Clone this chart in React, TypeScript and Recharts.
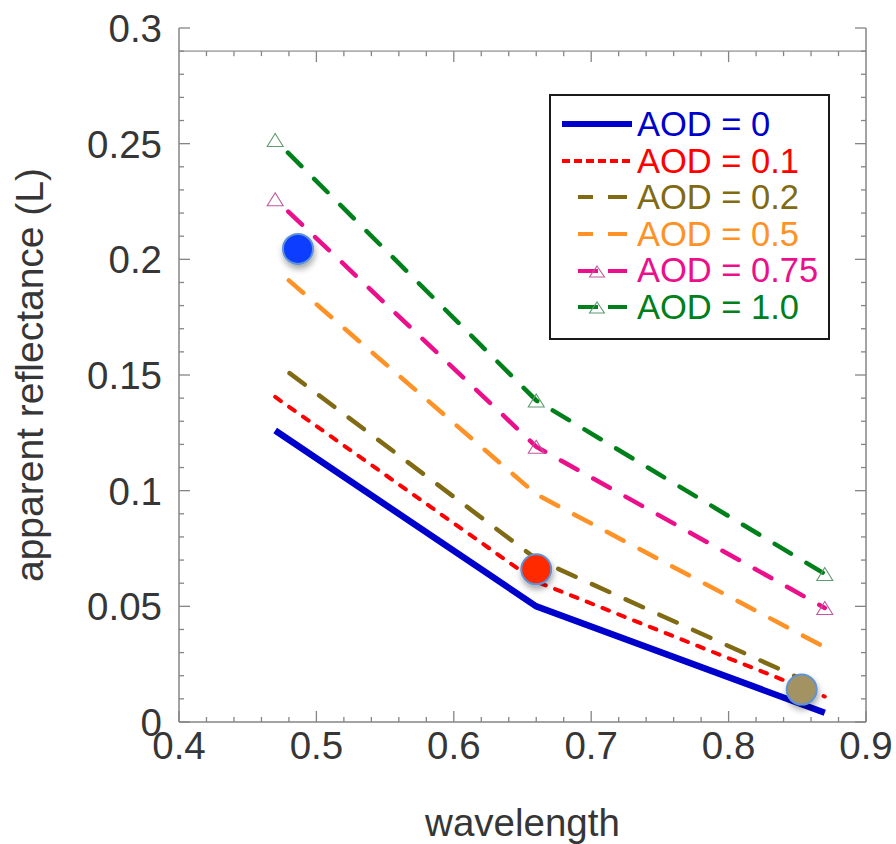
import React from 'react';
import { ComposedChart, Line, Scatter, XAxis, YAxis, ReferenceLine, Legend, Label } from 'recharts';

// ---- data ----
const wavelengths = [0.47, 0.66, 0.87];
const aod0 = [0.126, 0.05, 0.004];
const aod01 = [0.1405, 0.0607, 0.011];
const aod02 = [0.1555, 0.0705, 0.014];
const aod05 = [0.196, 0.0984, 0.0323];
const aod075 = [0.226, 0.119, 0.0493];
const aod10 = [0.2516, 0.139, 0.064];

const markerX = [0.4866, 0.66, 0.8532];
const markerY = [0.2045, 0.066, 0.014];
const markerFill = ['#0a3cff', '#ff2a00', '#a39364'];

const xMajorTicks = [0.4, 0.5, 0.6, 0.7, 0.8, 0.9];
const yMajorTicks = [0, 0.05, 0.1, 0.15, 0.2, 0.25, 0.3];
const xTickLabels = ['0.4', '0.5', '0.6', '0.7', '0.8', '0.9'];
const yTickLabels = ['0', '0.05', '0.1', '0.15', '0.2', '0.25', '0.3'];
const yFrameTop = 0.29;

// minor tick positions (every 0.02 on x, every 0.01 on y)
const xTicks: number[] = [];
for (let i = 40; i <= 90; i += 2) xTicks.push(i / 100);
const yTicks: number[] = [];
for (let i = 0; i <= 30; i += 1) yTicks.push(i / 100);

const FONT = '"Liberation Sans", Arial, sans-serif';
const AXIS = '#858585';
const TEXT = '#363636';

type S = { key: string; name: string; values: number[]; color: string; width: number; dash?: string; offset?: number; tri?: string; style: 'solid' | 'dot' | 'dash' | 'tri' };
const series: S[] = [
  { key: 'a0', name: 'AOD = 0', values: aod0, color: '#0000cc', width: 6.5, style: 'solid' },
  { key: 'a01', name: 'AOD = 0.1', values: aod01, color: '#ff0000', width: 4, dash: '7 10', offset: 0, style: 'dot' },
  { key: 'a02', name: 'AOD = 0.2', values: aod02, color: '#806a14', width: 4.5, dash: '19 18', offset: 19, style: 'dash' },
  { key: 'a05', name: 'AOD = 0.5', values: aod05, color: '#ff9226', width: 4.5, dash: '19 18', offset: 19, style: 'dash' },
  { key: 'a075', name: 'AOD = 0.75', values: aod075, color: '#ec0f8c', width: 4.5, dash: '19 18', offset: 19, tri: '#c0589a', style: 'tri' },
  { key: 'a10', name: 'AOD = 1.0', values: aod10, color: '#00801a', width: 4.5, dash: '19 18', offset: 19, tri: '#5f9a70', style: 'tri' },
];

const data = wavelengths.map((x, i) => {
  const row: any = { x };
  series.forEach((s) => { row[s.key] = s.values[i]; });
  return row;
});
const markers = markerX.map((x, i) => ({ x, y: markerY[i], fill: markerFill[i] }));

const near = (a: number, b: number) => Math.abs(a - b) < 1e-6;
const isMajorX = (v: number) => xMajorTicks.some((t) => near(t, v));
const isMajorY = (v: number) => yMajorTicks.some((t) => near(t, v));

const XTick = (p: any) => {
  const { x, y, payload } = p;
  const v = payload.value;
  const idx = xMajorTicks.findIndex((t) => near(t, v));
  return (
    <g>
      <line x1={x} y1={y} x2={x} y2={y - (idx >= 0 ? 11 : 5)} stroke={AXIS} strokeWidth={1.3} />
      {idx >= 0 && (
        <text x={x} y={y + 37} textAnchor="middle" fontSize={38.5} fontFamily={FONT} fill={TEXT}>{xTickLabels[idx]}</text>
      )}
    </g>
  );
};
const YTick = (p: any) => {
  const { x, y, payload } = p;
  const v = payload.value;
  const idx = yMajorTicks.findIndex((t) => near(t, v));
  return (
    <g>
      <line x1={x} y1={y} x2={x + (idx >= 0 ? 11 : 5)} y2={y} stroke={AXIS} strokeWidth={1.3} />
      {idx >= 0 && (
        <text x={x - 17} y={y} dy="0.36em" textAnchor="end" fontSize={38.5} fontFamily={FONT} fill={TEXT}>{yTickLabels[idx]}</text>
      )}
    </g>
  );
};
const YTickRight = (p: any) => {
  const { x, y, payload } = p;
  const major = isMajorY(payload.value);
  return <line x1={x} y1={y} x2={x - (major ? 11 : 5)} y2={y} stroke={AXIS} strokeWidth={1.3} />;
};

const makeTriangle = (color: string) => (p: any) => {
  const { cx, cy, index } = p;
  if (cx == null || cy == null) return <g key={`n${index}`} />;
  return (
    <path key={`t${index}`} d={`M${cx},${cy - 6.5} L${cx + 8},${cy + 6.5} L${cx - 8},${cy + 6.5} Z`} fill="none" stroke={color} strokeWidth={1.1} />
  );
};

const MarkerShape = (p: any) => {
  const { cx, cy, payload, index } = p;
  const id = `shadow${index ?? 0}_${Math.round(cx)}`;
  return (
    <g>
      <defs>
        <filter id={id} x="-60%" y="-60%" width="220%" height="220%">
          <feDropShadow dx="1" dy="4" stdDeviation="3" floodColor="#000" floodOpacity="0.35" />
        </filter>
      </defs>
      <circle cx={cx} cy={cy} r={15} fill={payload.fill} stroke="#5e93d6" strokeWidth={2} filter={`url(#${id})`} />
    </g>
  );
};

const LegendSample = ({ s }: { s: S }) => {
  const c = s.color;
  return (
    <svg width={75} height={20} style={{ marginLeft: 11, flex: 'none', display: 'block' }}>
      {s.style === 'solid' && <line x1={0} y1={10} x2={70} y2={10} stroke={c} strokeWidth={6} />}
      {s.style === 'dot' && <line x1={0} y1={10} x2={70} y2={10} stroke={c} strokeWidth={4} strokeDasharray="8 4" />}
      {(s.style === 'dash' || s.style === 'tri') && (
        <g>
          <line x1={16} y1={10} x2={s.style === 'tri' ? 36 : 31} y2={10} stroke={c} strokeWidth={4} />
          <line x1={46} y1={10} x2={65} y2={10} stroke={c} strokeWidth={4} />
        </g>
      )}
      {s.style === 'tri' && (
        <path d="M35,5 L42.5,16 L27.5,16 Z" fill="#fff" fillOpacity={0} stroke={s.tri} strokeWidth={1.1} />
      )}
    </svg>
  );
};

const LegendBox = () => (
  <div style={{ width: 281, height: 246, border: '2px solid #1a1a1a', boxSizing: 'border-box', background: '#fff', paddingTop: 10, fontFamily: FONT }}>
    {series.map((s) => (
      <div key={s.key} style={{ display: 'flex', alignItems: 'center', height: 36.6 }}>
        <LegendSample s={s} />
        <span style={{ color: s.color, fontSize: 34.5, lineHeight: '36.6px', whiteSpace: 'nowrap' }}>{s.name}</span>
      </div>
    ))}
  </div>
);

export default function App() {
  return (
    <div style={{ position: 'absolute', left: 0, top: 0, width: 896, height: 844, background: '#fff' }}>
      <ComposedChart width={896} height={844} data={data} margin={{ top: 28, right: 0, bottom: 0, left: 0 }}>
        <XAxis
          dataKey="x"
          type="number"
          domain={[0.4, 0.9]}
          ticks={xTicks}
          interval={0}
          tickSize={0}
          tickMargin={0}
          tickLine={false}
          axisLine={{ stroke: AXIS, strokeWidth: 1.5 }}
          tick={(p: any) => <XTick {...p} />}
          height={122}
          allowDataOverflow
        >
          <Label value="wavelength" position="insideBottom" offset={8} style={{ fontSize: 38.5, fontFamily: FONT, fill: TEXT }} />
        </XAxis>
        <YAxis
          type="number"
          domain={[0, 0.3]}
          ticks={yTicks}
          interval={0}
          tickSize={0}
          tickMargin={0}
          tickLine={false}
          axisLine={{ stroke: AXIS, strokeWidth: 1.5 }}
          tick={(p: any) => <YTick {...p} />}
          width={179}
          allowDataOverflow
        >
          <Label value="apparent reflectance (L)" angle={-90} position="insideLeft" offset={29} style={{ fontSize: 39, fontFamily: FONT, fill: TEXT, textAnchor: 'middle' }} />
        </YAxis>
        <YAxis
          yAxisId="r"
          orientation="right"
          type="number"
          domain={[0, 0.3]}
          ticks={yTicks}
          interval={0}
          tickSize={0}
          tickMargin={0}
          tickLine={false}
          axisLine={{ stroke: AXIS, strokeWidth: 1.5 }}
          tick={(p: any) => <YTickRight {...p} />}
          width={30}
          allowDataOverflow
        />
        <ReferenceLine segment={[{ x: 0.4, y: yFrameTop }, { x: 0.9, y: yFrameTop }]} stroke="#b0b0b0" strokeWidth={1.8} />
        {xTicks.filter((v) => v > 0.401 && v < 0.899).map((v) => (
          <ReferenceLine
            key={`tt${v}`}
            segment={[{ x: v, y: yFrameTop }, { x: v, y: yFrameTop - (isMajorX(v) ? 0.00475 : 0.00216) }]}
            stroke={AXIS}
            strokeWidth={1.3}
          />
        ))}
        {series.map((s) => (
          <Line
            key={s.key}
            dataKey={s.key}
            type="linear"
            stroke={s.color}
            strokeWidth={s.width}
            strokeDasharray={s.dash}
            strokeDashoffset={s.offset}
            strokeLinecap={s.dash ? 'round' : 'butt'}
            dot={s.tri ? makeTriangle(s.tri) : false}
            activeDot={false}
            isAnimationActive={false}
          />
        ))}
        <Scatter data={markers} dataKey="y" shape={(p: any) => <MarkerShape {...p} />} isAnimationActive={false} />
        <Legend
          content={() => <LegendBox />}
          layout="vertical"
          align="center"
          verticalAlign="middle"
          wrapperStyle={{ left: 549, top: 94, width: 281, height: 246 }}
        />
      </ComposedChart>
    </div>
  );
}
